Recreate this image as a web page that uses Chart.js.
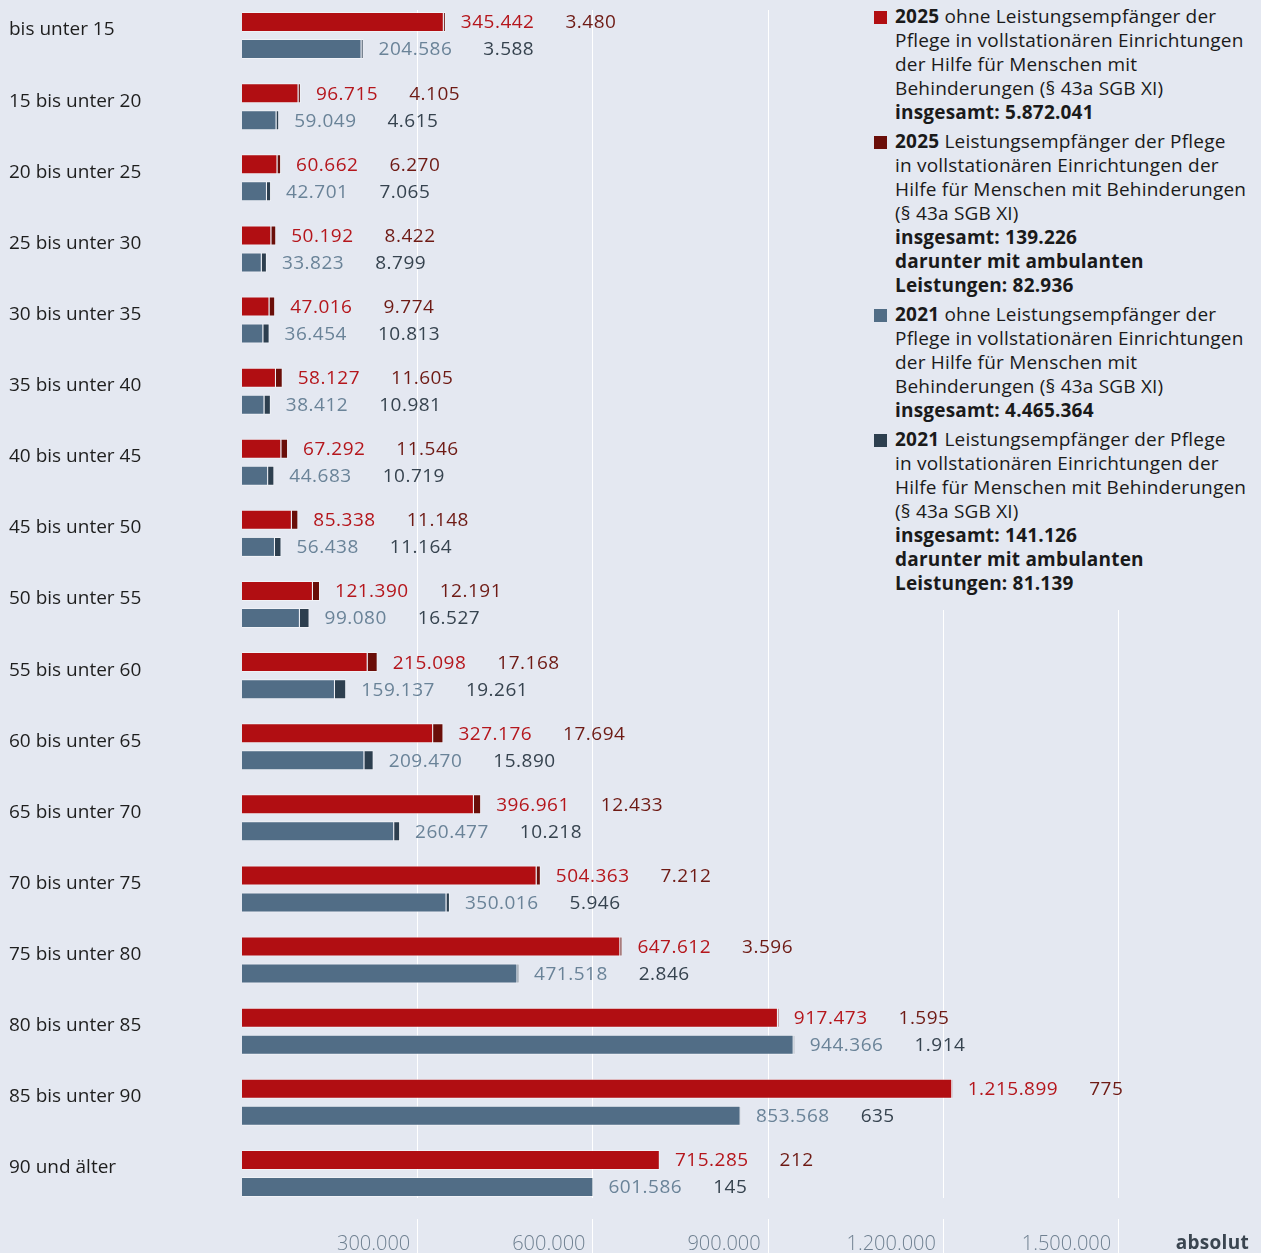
<!DOCTYPE html>
<html lang="de">
<head>
<meta charset="utf-8">
<script src="https://cdn.jsdelivr.net/npm/chart.js@4/dist/chart.umd.min.js"></script>
<style>
  html, body { margin: 0; padding: 0; background: #e4e8f1; }
  #wrap { position: relative; width: 1261px; height: 1253px; overflow: hidden; background: #e4e8f1; font-family: "Open Sans", "Noto Sans", sans-serif; }
  #chart { position: absolute; left: 0; top: 0; }
  #legend { position: absolute; left: 868px; top: 0; width: 393px; height: 610px; background: #e4e8f1; padding-top: 4px; box-sizing: border-box; }
  .item { position: relative; padding-left: 27px; margin-bottom: 5px; font-size: 19px; letter-spacing: 0.2px; line-height: 24px; color: #1a1a1a; white-space: nowrap; }
  .item b { font-weight: 700; }
  .sw { position: absolute; left: 6px; top: 7px; width: 13px; height: 13px; }
  #absolut { position: absolute; right: 12px; top: 1230px; font-size: 19px; letter-spacing: 0.3px; font-weight: 700; color: #3a4550; line-height: 24px; }
</style>
</head>
<body>
<div id="wrap">
  <canvas id="chart" width="1261" height="1253"></canvas>
  <div id="legend"></div>
  <div id="absolut">absolut</div>
</div>
<script>
// ---- data ----
const categories = ["bis unter 15", "15 bis unter 20", "20 bis unter 25", "25 bis unter 30", "30 bis unter 35",
  "35 bis unter 40", "40 bis unter 45", "45 bis unter 50", "50 bis unter 55", "55 bis unter 60",
  "60 bis unter 65", "65 bis unter 70", "70 bis unter 75", "75 bis unter 80", "80 bis unter 85",
  "85 bis unter 90", "90 und älter"];
const ohne2025 = [345442, 96715, 60662, 50192, 47016, 58127, 67292, 85338, 121390, 215098, 327176, 396961, 504363, 647612, 917473, 1215899, 715285];
const pflege2025 = [3480, 4105, 6270, 8422, 9774, 11605, 11546, 11148, 12191, 17168, 17694, 12433, 7212, 3596, 1595, 775, 212];
const ohne2021 = [204586, 59049, 42701, 33823, 36454, 38412, 44683, 56438, 99080, 159137, 209470, 260477, 350016, 471518, 944366, 853568, 601586];
const pflege2021 = [3588, 4615, 7065, 8799, 10813, 10981, 10719, 11164, 16527, 19261, 15890, 10218, 5946, 2846, 1914, 635, 145];
const xTicks = [300000, 600000, 900000, 1200000, 1500000];
const legendItems = [
  { year: "2025", text: "ohne Leistungsempfänger der<br>Pflege in vollstationären Einrichtungen<br>der Hilfe für Menschen mit<br>Behinderungen (§ 43a SGB XI)", bold: "insgesamt: 5.872.041" },
  { year: "2025", text: "Leistungsempfänger der Pflege<br>in vollstationären Einrichtungen der<br>Hilfe für Menschen mit Behinderungen<br>(§ 43a SGB XI)", bold: "insgesamt: 139.226<br>darunter mit ambulanten<br>Leistungen: 82.936" },
  { year: "2021", text: "ohne Leistungsempfänger der<br>Pflege in vollstationären Einrichtungen<br>der Hilfe für Menschen mit<br>Behinderungen (§ 43a SGB XI)", bold: "insgesamt: 4.465.364" },
  { year: "2021", text: "Leistungsempfänger der Pflege<br>in vollstationären Einrichtungen der<br>Hilfe für Menschen mit Behinderungen<br>(§ 43a SGB XI)", bold: "insgesamt: 141.126<br>darunter mit ambulanten<br>Leistungen: 81.139" }
];

// ---- styles ----
const barColors = ["#b10e12", "#6a0e09", "#516d86", "#2d3f4f"];
const textColors = ["#b5161c", "#6e1a14", "#6a8398", "#36434f"];
const FONT = '"Open Sans", "Noto Sans", sans-serif';

function fmt(n) { return String(n).replace(/\B(?=(\d{3})+(?!\d))/g, "."); }

// legend (HTML)
document.getElementById("legend").innerHTML = legendItems.map((it, i) =>
  `<div class="item"><span class="sw" style="background:${barColors[i]}"></span><b>${it.year}</b> ${it.text}<br><b>${it.bold}</b></div>`
).join("");

const gridPlugin = {
  id: "gridPlugin",
  beforeDatasetsDraw(chart) {
    const ctx = chart.ctx, xs = chart.scales.x;
    ctx.save();
    ctx.strokeStyle = "#ffffff";
    ctx.lineWidth = 1;
    xTicks.forEach(v => {
      const x = Math.round(xs.getPixelForValue(v)) + 0.5;
      ctx.beginPath();
      ctx.moveTo(x, 10);
      ctx.lineTo(x, 1198);
      ctx.moveTo(x, 1219);
      ctx.lineTo(x, 1253);
      ctx.stroke();
    });
    ctx.restore();
  }
};

const valuePlugin = {
  id: "valuePlugin",
  afterDatasetsDraw(chart) {
    const ctx = chart.ctx;
    ctx.save();
    ctx.font = "19px " + FONT;
    if ("letterSpacing" in ctx) ctx.letterSpacing = "0.5px";
    ctx.textBaseline = "middle";
    ctx.textAlign = "left";
    [[0, 1], [2, 3]].forEach(([a, b]) => {
      const metaB = chart.getDatasetMeta(b);
      const dsA = chart.data.datasets[a].data, dsB = chart.data.datasets[b].data;
      metaB.data.forEach((el, i) => {
        const x0 = el.x + 15;
        const t1 = fmt(dsA[i]);
        ctx.fillStyle = textColors[a];
        ctx.fillText(t1, x0, el.y + 1);
        const w = ctx.measureText(t1).width;
        ctx.fillStyle = textColors[b];
        ctx.fillText(fmt(dsB[i]), x0 + w + 31, el.y + 1);
      });
    });
    ctx.restore();
  }
};

new Chart(document.getElementById("chart"), {
  type: "bar",
  data: {
    labels: categories,
    datasets: [
      { label: "2025 ohne", data: ohne2025, stack: "s2025", backgroundColor: barColors[0] },
      { label: "2025 Pflege", data: pflege2025, stack: "s2025", backgroundColor: barColors[1] },
      { label: "2021 ohne", data: ohne2021, stack: "s2021", backgroundColor: barColors[2] },
      { label: "2021 Pflege", data: pflege2021, stack: "s2021", backgroundColor: barColors[3] }
    ]
  },
  options: {
    indexAxis: "y",
    responsive: false,
    animation: false,
    events: [],
    categoryPercentage: 0.76,
    barPercentage: 0.74,
    datasets: { bar: { borderWidth: 1, borderColor: "rgba(255,255,255,0.45)", borderSkipped: "start" } },
    layout: { padding: { left: 9, right: 26, top: 0, bottom: 0 } },
    plugins: { legend: { display: false }, tooltip: { enabled: false } },
    scales: {
      x: {
        stacked: true,
        min: 0, max: 1700000,
        grid: { display: false, drawTicks: false },
        border: { display: false },
        afterBuildTicks(scale) { scale.ticks = xTicks.map(v => ({ value: v })); },
        afterFit(scale) { scale.height = 44; scale.paddingLeft = 0; scale.paddingRight = 0; },
        ticks: {
          align: "end",
          labelOffset: -7,
          padding: 23,
          color: "#6f8091",
          font: { family: FONT, size: 20, weight: "300" },
          callback: v => fmt(v)
        }
      },
      y: {
        stacked: true,
        grid: { display: false, drawTicks: false },
        border: { display: false },
        afterFit(scale) { scale.width = 233; scale.paddingTop = 0; scale.paddingBottom = 0; },
        ticks: {
          crossAlign: "far",
          labelOffset: -5.5,
          color: "#1e1e1e",
          font: { family: FONT, size: 19 }
        }
      }
    }
  },
  plugins: [gridPlugin, valuePlugin]
});
</script>
</body>
</html>
